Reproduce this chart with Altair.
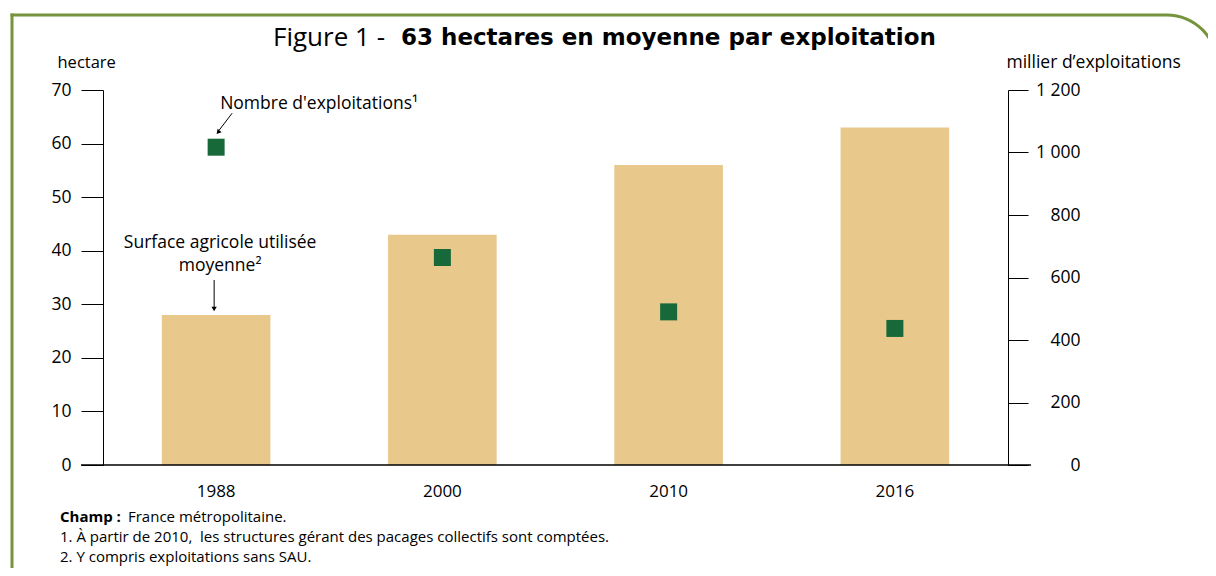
import altair as alt
import pandas as pd

# ---- data ----
years = ["1988", "2000", "2010", "2016"]
sau_moyenne = [28, 43, 56, 63]            # hectares
nb_exploitations = [1017, 664, 490, 437]  # milliers
left_ticks = [0, 10, 20, 30, 40, 50, 60, 70]
right_ticks = [0, 200, 400, 600, 800, 1000, 1200]

title_regular = "Figure 1 -"
title_bold = "63 hectares en moyenne par exploitation"
note_champ_bold = "Champ :"
note_champ = "France métropolitaine."
note_1 = "1. À partir de 2010,\u00a0 les structures gérant des pacages collectifs sont comptées."
note_2 = "2. Y compris exploitations sans SAU."
lbl_nb = "Nombre d'exploitations\u00b9"
lbl_sau_1 = "Surface agricole utilisée"
lbl_sau_2 = "moyenne\u00b2"

df = pd.DataFrame({"annee": years, "sau": sau_moyenne, "nb": nb_exploitations})
one = pd.DataFrame({"k": [0]})

W, H = 905, 375
FONT = "Open Sans"
FS = 17.5
NFS = 15
BAR = "#E8C98B"
SQ = "#18693A"
FRAME = "#77933C"

x_enc = alt.X(
    "annee:N", sort=years,
    scale=alt.Scale(paddingInner=0.52, paddingOuter=0.26),
    axis=alt.Axis(title=None, domain=False, ticks=False, labelFontSize=17,
                  labelPadding=18, labelColor="black", labelAngle=0, labelFont=FONT),
)

y_left = alt.Y(
    "sau:Q",
    scale=alt.Scale(domain=[0, 70], nice=False),
    axis=alt.Axis(values=left_ticks, title="hectare", grid=False, tickSize=22,
                  tickColor="black", domainColor="black", labelPadding=10,
                  labelFontSize=FS, labelColor="black", labelFont=FONT,
                  titleAngle=0, titleAlign="left", titleBaseline="middle",
                  titleX=-46, titleY=-28, titleFontSize=16.5, titleFontWeight="normal",
                  titleFont=FONT, titleColor="black"),
)

y_right = alt.Y(
    "nb:Q",
    scale=alt.Scale(domain=[0, 1200], nice=False),
    axis=alt.Axis(orient="right", values=right_ticks, title="millier d\u2019exploitations",
                  grid=False, tickSize=20, tickColor="black", domainColor="black",
                  labelPadding=52, labelAlign="right", labelFontSize=FS,
                  labelColor="black", labelFont=FONT,
                  labelExpr="replace(format(datum.value, ',d'), ',', ' ')",
                  titleAngle=0, titleAlign="left", titleBaseline="middle",
                  titleX=-2, titleY=-28, titleFontSize=FS, titleFontWeight="normal",
                  titleFont=FONT, titleColor="black"),
)

base = alt.Chart(df)
first = base.transform_filter(alt.datum.annee == "1988")

bars = base.mark_bar(color=BAR).encode(x=x_enc, y=y_left)
sau_t1 = first.mark_text(text=lbl_sau_1, dy=-72, dx=4, font=FONT, fontSize=FS,
                         baseline="middle", color="black").encode(x=x_enc, y=y_left)
sau_t2 = first.mark_text(text=lbl_sau_2, dy=-49, dx=4, font=FONT, fontSize=FS,
                         baseline="middle", color="black").encode(x=x_enc, y=y_left)
sau_shaft = first.mark_rule(color="black", strokeWidth=1, yOffset=-35, y2Offset=-8,
                            xOffset=-2).encode(x=x_enc, y=y_left, y2="sau:Q")
sau_head = first.mark_point(shape="triangle-down", filled=True, size=28, color="black",
                            opacity=1, yOffset=-6, xOffset=-2).encode(x=x_enc, y=y_left)
left_group = alt.layer(bars, sau_t1, sau_t2, sau_shaft, sau_head)

squares = base.mark_square(color=SQ, size=289, opacity=1).encode(x=x_enc, y=y_right)
nb_t = first.mark_text(text=lbl_nb, dx=4, dy=-43, align="left", font=FONT, fontSize=FS,
                       baseline="middle", color="black").encode(x=x_enc, y=y_right)
nb_shaft = first.mark_rule(color="black", strokeWidth=1, xOffset=16, yOffset=-34,
                           x2Offset=3, y2Offset=-17).encode(
    x=x_enc, y=y_right,
    x2=alt.X2("annee:N", bandPosition=0.5), y2="nb:Q")
nb_head = first.mark_point(shape="triangle-down", filled=True, size=28, color="black",
                           opacity=1, angle=40, xOffset=2, yOffset=-15).encode(x=x_enc, y=y_right)
right_group = alt.layer(squares, nb_t, nb_shaft, nb_head)

# ---- decorations (title, notes, frame, baseline) ----
deco = alt.Chart(one)
title_a = deco.mark_text(text=title_regular, align="right", baseline="middle", font=FONT,
                         fontSize=26, color="black").encode(x=alt.value(282), y=alt.value(-52))
title_b = deco.mark_text(text=title_bold, align="left", baseline="middle", font="DejaVu Sans",
                         fontWeight="bold", fontSize=23, color="black").encode(x=alt.value(298), y=alt.value(-52))
n0a = deco.mark_text(text=note_champ_bold, align="left", baseline="middle", font=FONT,
                     fontWeight="bold", fontSize=NFS, color="black").encode(x=alt.value(-43), y=alt.value(427))
n0b = deco.mark_text(text=note_champ, align="left", baseline="middle", font=FONT,
                     fontSize=NFS, color="black").encode(x=alt.value(25), y=alt.value(427))
n1 = deco.mark_text(text=note_1, align="left", baseline="middle", font=FONT,
                    fontSize=NFS, color="black").encode(x=alt.value(-43), y=alt.value(447))
n2 = deco.mark_text(text=note_2, align="left", baseline="middle", font=FONT,
                    fontSize=NFS, color="black").encode(x=alt.value(-43), y=alt.value(467))
baseline = deco.mark_rule(color="black", strokeWidth=1.5).encode(
    x=alt.value(-22), x2=alt.value(928), y=alt.value(H))
frame_left = deco.mark_rule(color=FRAME, strokeWidth=3).encode(
    x=alt.value(-91), y=alt.value(-76.5), y2=alt.value(500))
frame_top = deco.mark_rule(color=FRAME, strokeWidth=3).encode(
    x=alt.value(-92.5), x2=alt.value(1064), y=alt.value(-75))
frame_arc = deco.mark_arc(color=FRAME, radius=51.5, radius2=48.5, theta=0,
                          theta2=1.5708).encode(x=alt.value(1064), y=alt.value(-25))

chart = alt.layer(
    left_group, right_group,
    title_a, title_b, n0a, n0b, n1, n2, baseline, frame_left, frame_top, frame_arc,
).resolve_scale(y="independent").properties(
    width=W, height=H,
    autosize=alt.AutoSizeParams(type="none"),
    padding={"left": 95, "top": 82, "right": 200, "bottom": 103},
).configure_view(stroke=None)

chart.save("out.html", embed_options={"renderer": "svg", "actions": False})
